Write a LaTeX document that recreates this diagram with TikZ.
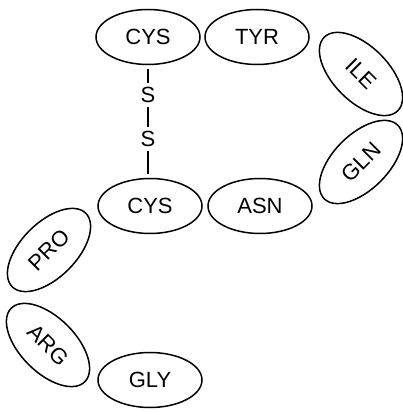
\documentclass[tikz,border=0pt]{standalone}
\usepackage{fontspec}
\setmainfont{Liberation Sans}
\usetikzlibrary{shapes.geometric}

\begin{document}
\begin{tikzpicture}[
    x=1pt, y=1pt,
    residue/.style={ellipse, draw, line width=1.5pt, minimum width=104pt, minimum height=55pt, inner sep=0pt, font=\fontsize{22}{26}\selectfont},
    sulfur/.style={inner sep=4pt, font=\fontsize{22}{26}\selectfont},
    bond/.style={draw, line width=1.4pt}
]
\useasboundingbox (0,0) rectangle (403,412);

% Define residue positions
\node[residue] (cysA) at (148, 375) {CYS};
\node[residue] (tyr) at (257, 375) {TYR};
\node[residue, rotate=-45] (ile) at (361, 338) {ILE};
\node[residue, rotate=45] (gln) at (361, 250) {GLN};
\node[residue] (cysB) at (150, 206) {CYS};
\node[residue] (asn) at (260, 206) {ASN};
\node[residue, rotate=45] (pro) at (49, 162) {PRO};
\node[residue, rotate=-45] (arg) at (48, 67) {ARG};
\node[residue] (gly) at (150, 32) {GLY};

% Disulfide bridge
\node[sulfur] (s1) at (148, 317) {S};
\node[sulfur] (s2) at (148, 273) {S};

\draw[bond, shorten <=4pt] (cysA.south) -- (s1);
\draw[bond] (s1) -- (s2);
\draw[bond, shorten >=4pt] (s2) -- (s2 |- cysB.north);

\end{tikzpicture}
\end{document}
